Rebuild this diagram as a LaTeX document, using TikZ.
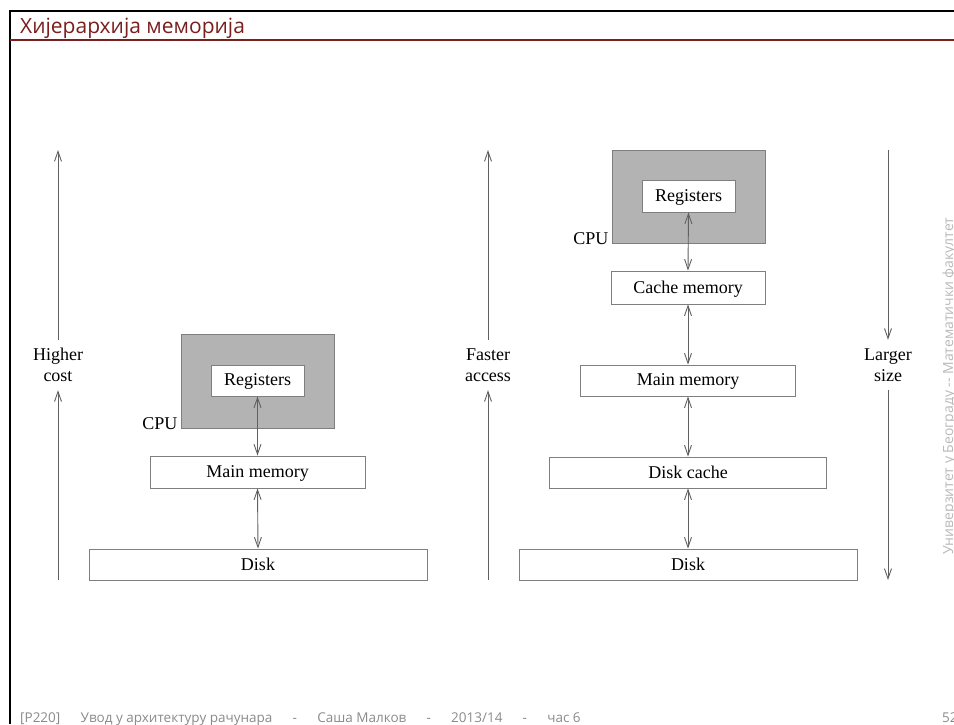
\documentclass[tikz,border=0pt]{standalone}
\usepackage{fontspec}
\setmainfont{Liberation Serif}
\newfontfamily\slidefont{Open Sans}
\usetikzlibrary{arrows.meta}
\definecolor{titlered}{HTML}{7A1E1E}
\definecolor{cpugray}{HTML}{B3B3B3}
\definecolor{boxline}{HTML}{7F7F7F}
\definecolor{arrline}{HTML}{606060}
\definecolor{foot}{HTML}{8A8A8A}
\begin{document}
\begin{tikzpicture}[x=1pt,y=-1pt,
  every node/.style={font=\fontsize{18}{21}\selectfont},
  membox/.style={draw=boxline, line width=0.9pt, fill=white, inner sep=0pt, text depth=1pt},
  cpubox/.style={draw=boxline, line width=0.9pt, fill=cpugray, inner sep=0pt},
  conn/.style={draw=arrline, line width=0.9pt, {Straight Barb[length=10pt,width=7pt]}-{Straight Barb[length=10pt,width=7pt]}},
  side/.style={draw=arrline, line width=0.9pt, -{Straight Barb[length=10pt,width=7pt]}},
  sidelab/.style={align=center, inner sep=0pt, minimum height=50pt}
]
\useasboundingbox (0,0) rectangle (954,724);
% frame
\draw[black, line width=2pt] (10,724) -- (10,11) -- (954,11);
\draw[titlered, line width=1.6pt] (10,40) -- (954,40);
\node[anchor=base west, inner sep=0pt, text=titlered, font=\slidefont\fontsize{21}{24}\selectfont] (title) at (20,33) {Хијерархија меморија};
\node[anchor=base west, inner sep=0pt, text=foot, font=\slidefont\fontsize{13.5}{15}\selectfont] (footer) at (20,722)
  {[P220]\hspace{1.5em}Увод у архитектуру рачунара\hspace{1.5em}-\hspace{1.5em}Саша Малков\hspace{1.5em}-\hspace{1.5em}2013/14\hspace{1.5em}-\hspace{1.5em}час 6};
\node[anchor=base west, inner sep=0pt, text=foot, font=\slidefont\fontsize{13.5}{15}\selectfont] (pagenum) at (942,722) {52};
\node[anchor=base west, rotate=90, inner sep=0pt, text=foot!60, font=\slidefont\fontsize{14}{16}\selectfont] (univ) at (953,555) {Универзитет у Београду -- Математички факултет};

% left diagram
\node[cpubox, minimum width=153pt, minimum height=94pt] (cpuL) at (257.5,381) {};
\node[membox, minimum width=93pt, minimum height=31pt] (regL) at (257.5,380.5) {Registers};
\node[anchor=base east, inner sep=0pt] (cpuLlab) at ([xshift=-3pt,yshift=-1pt]cpuL.south west) {CPU};
\node[membox, minimum width=215pt, minimum height=32pt] (mainL) at (257.5,472) {Main memory};
\node[membox, minimum width=338pt, minimum height=31pt] (diskL) at (258,564.5) {Disk};
\draw[conn] (regL.south) -- (mainL.north);
\draw[conn] (mainL.south) -- (diskL.north);

\node[sidelab] (hc) at (58,365) {Higher\\cost};
\coordinate (hcTop) at (58,150);
\coordinate (hcBot) at (58,580);
\draw[side] (hc.north) -- (hcTop);
\draw[side] (hcBot) -- (hc.south);

% right diagram
\node[cpubox, minimum width=153pt, minimum height=93pt] (cpuR) at (688.5,196.5) {};
\node[membox, minimum width=93pt, minimum height=32pt] (regR) at (688.5,196) {Registers};
\node[anchor=base east, inner sep=0pt] (cpuRlab) at ([xshift=-3pt,yshift=-1pt]cpuR.south west) {CPU};
\node[membox, minimum width=154pt, minimum height=33pt] (cacheR) at (688,287.5) {Cache memory};
\node[membox, minimum width=215pt, minimum height=31pt] (mainR) at (688,380.5) {Main memory};
\node[membox, minimum width=277pt, minimum height=31pt] (dcR) at (688,472.5) {Disk cache};
\node[membox, minimum width=338pt, minimum height=31pt] (diskR) at (688,564.5) {Disk};
\draw[conn] (regR.south) -- (cacheR.north);
\draw[conn] (cacheR.south) -- (mainR.north);
\draw[conn] (mainR.south) -- (dcR.north);
\draw[conn] (dcR.south) -- (diskR.north);

\node[sidelab] (fa) at (488,365) {Faster\\access};
\coordinate (faTop) at (488,150);
\coordinate (faBot) at (488,580);
\draw[side] (fa.north) -- (faTop);
\draw[side] (faBot) -- (fa.south);

\node[sidelab] (ls) at (888,365) {Larger\\size};
\coordinate (lsTop) at (888,150);
\coordinate (lsBot) at (888,580);
\draw[side] (lsTop) -- (ls.north);
\draw[side] (ls.south) -- (lsBot);
\end{tikzpicture}
\end{document}
